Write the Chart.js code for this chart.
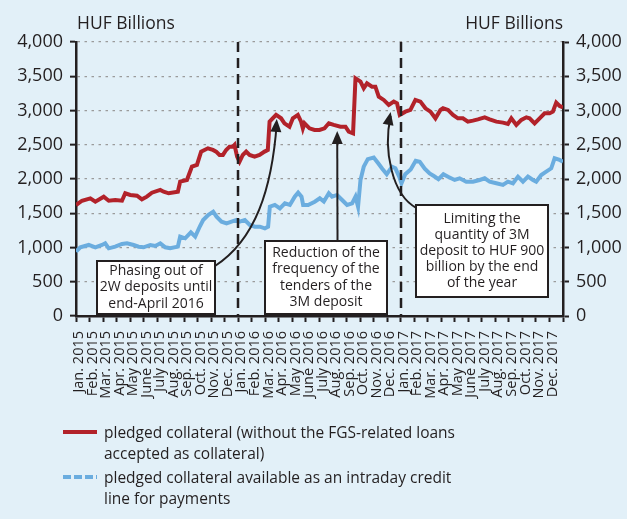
<!DOCTYPE html>
<html>
<head>
<meta charset="utf-8">
<script src="https://cdn.jsdelivr.net/npm/chart.js@4.4.1/dist/chart.umd.min.js"></script>
<style>
  html, body { margin: 0; padding: 0; }
  body {
    width: 627px; height: 519px; overflow: hidden; position: relative;
    background: #e2f0f8; font-family: 'Open Sans', sans-serif; color: #231f20;
  }
  #chart { position: absolute; left: 0; top: 0; }
  .legend { position: absolute; left: 104px; font-size: 15.5px; line-height: 20.5px; white-space: nowrap; }
  .sample { position: absolute; left: 63px; width: 34px; height: 4px; }
</style>
</head>
<body>
<canvas id="chart" width="627" height="519"></canvas>

<div class="sample" style="top:430px; background:#b2222a;"></div>
<div class="legend" style="top:422px;">pledged collateral (without the FGS-related loans<br>accepted as collateral)</div>
<div class="sample" style="top:475px; background:repeating-linear-gradient(to right, #6baddf 0 8px, transparent 8px 11px);"></div>
<div class="legend" style="top:467px;">pledged collateral available as an intraday credit<br>line for payments</div>

<script>
// tick labels (one per month, Jan 2015 - Dec 2017)
const monthNames = ['Jan.', 'Feb.', 'Mar.', 'Apr.', 'May', 'June', 'July', 'Aug.', 'Sep.', 'Oct.', 'Nov.', 'Dec.'];
const years = ['2015', '2016', '2017'];
const months = [];
years.forEach(y => monthNames.forEach(m => months.push(m + ' ' + y)));

// positions in months from Jan 2015, values in HUF billions
const redX = [0, 0.44, 1.06, 1.43, 2.05, 2.42, 2.9, 3.4, 3.64, 4.01, 4.51, 4.87, 5.24, 5.61, 6.23, 6.48, 6.85, 7.53, 7.7, 8.2,
  8.57, 8.94, 9.25, 9.75, 10.12, 10.36, 10.61, 10.86, 11.1, 11.35, 11.6, 11.72, 11.91, 12.09, 12.33, 12.58, 12.83, 13.2, 13.57, 13.94,
  14.18, 14.31, 14.79, 15.16, 15.41, 15.78, 16.03, 16.4, 16.64, 16.77, 16.89, 17.26, 17.63, 18, 18.37, 18.69, 19.05, 19.55, 19.92, 20.16,
  20.48, 20.66, 21.03, 21.27, 21.51, 21.88, 22.13, 22.38, 22.75, 23.12, 23.49, 23.73, 23.93, 24.35, 24.72, 25.09, 25.46, 25.83, 26.2, 26.57,
  26.94, 27.13, 27.5, 27.87, 28.23, 28.6, 28.97, 29.34, 29.71, 30.21, 30.58, 31.07, 31.56, 31.93, 32.18, 32.55, 32.92, 33.29, 33.53, 33.9,
  34.27, 34.64, 35.01, 35.25, 35.5, 35.75, 36];
const red = [1620, 1683, 1718, 1669, 1742, 1683, 1694, 1683, 1791, 1767, 1757, 1703, 1742, 1800, 1840, 1815, 1791, 1815, 1961, 1986,
  2180, 2205, 2400, 2448, 2424, 2400, 2351, 2351, 2424, 2472, 2472, 2497, 2326, 2253, 2351, 2400, 2351, 2326, 2351, 2400,
  2424, 2837, 2935, 2886, 2813, 2764, 2886, 2935, 2837, 2740, 2813, 2740, 2716, 2716, 2740, 2813, 2789, 2764, 2764, 2691,
  2667, 3470, 3421, 3324, 3397, 3348, 3348, 3202, 3154, 3081, 3129, 3105, 2935, 2983, 3008, 3154, 3129, 3032, 2983, 2886,
  3008, 3032, 3008, 2935, 2886, 2886, 2837, 2852, 2871, 2900, 2871, 2837, 2823, 2803, 2886, 2789, 2862, 2900, 2886, 2813,
  2886, 2959, 2959, 2983, 3115, 3066, 3047];

const blueX = [0, 0.32, 0.94, 1.43, 1.92, 2.16, 2.42, 2.9, 3.4, 3.77, 4.26, 4.63, 5, 5.49, 5.86, 6.23, 6.6, 6.96, 7.53, 7.7,
  8.07, 8.49, 8.81, 9.16, 9.4, 9.77, 10.14, 10.39, 10.76, 11.13, 11.5, 11.87, 12.11, 12.48, 12.85, 13.22, 13.59, 13.96, 14.2, 14.33,
  14.7, 15.07, 15.44, 15.81, 16.17, 16.42, 16.67, 16.79, 17.16, 17.65, 18.02, 18.32, 18.69, 18.93, 19.3, 19.67, 20.04, 20.41, 20.66, 20.85,
  21.03, 21.27, 21.57, 22.01, 22.34, 22.64, 22.97, 23.36, 23.61, 23.89, 24.06, 24.34, 24.74, 25.11, 25.41, 25.78, 26.14, 26.48, 26.79, 27.16,
  27.5, 27.99, 28.36, 28.85, 29.34, 29.84, 30.21, 30.58, 31.07, 31.56, 31.93, 32.3, 32.67, 33.04, 33.41, 33.78, 34.02, 34.39, 34.76, 35.13,
  35.38, 35.75, 36];
const blue = [939, 1003, 1037, 1003, 1037, 1061, 988, 1012, 1051, 1061, 1037, 1012, 1003, 1037, 1022, 1061, 1003, 988, 1012, 1158,
  1134, 1220, 1158, 1310, 1402, 1475, 1523, 1450, 1377, 1353, 1377, 1402, 1377, 1402, 1329, 1304, 1304, 1280, 1304, 1596,
  1621, 1572, 1645, 1621, 1742, 1800, 1742, 1621, 1621, 1669, 1718, 1670, 1791, 1742, 1767, 1694, 1621, 1645, 1742, 1596,
  1986, 2180, 2290, 2314, 2229, 2150, 2070, 2180, 2156, 2035, 1937, 2070, 2140, 2265, 2250, 2150, 2080, 2040, 1998, 2070,
  2034, 1986, 2010, 1961, 1961, 1986, 2010, 1961, 1937, 1913, 1961, 1937, 2034, 1961, 2034, 1986, 1961, 2059, 2107, 2156,
  2302, 2278, 2253];

// vertical dashed lines (Jan 2016, Jan 2017)
const breaks = [12, 24];

const ink = '#231f20';
const font = "'Open Sans', sans-serif";

// annotations: box in px, arrow tip in data units (month, value), curve controls in px
const notes = [
  { lines: ['Phasing out of', '2W deposits until', 'end-April 2016'],
    box: [97, 261, 118, 53], from: [215, 266], c1: [255, 240], c2: [272, 190], tip: [14.84, 2876] },
  { lines: ['Reduction of the', 'frequency of the', 'tenders of the', '3M deposit'],
    box: [265, 241, 122, 73], from: [337.5, 241], tip: [19.31, 2701] },
  { lines: ['Limiting the', 'quantity of 3M', 'deposit to HUF 900', 'billion by the end', 'of the year'],
    box: [416, 205, 132, 92], from: [416.5, 208], c1: [392, 195], c2: [383, 150], tip: [23.26, 2978] }
];

function arrowHead(ctx, x, y, fx, fy) {
  const a = Math.atan2(y - fy, x - fx);
  const len = 13, w = 5.5;
  ctx.beginPath();
  ctx.moveTo(x, y);
  ctx.lineTo(x - len * Math.cos(a) + w * Math.sin(a), y - len * Math.sin(a) - w * Math.cos(a));
  ctx.lineTo(x - len * Math.cos(a) - w * Math.sin(a), y - len * Math.sin(a) + w * Math.cos(a));
  ctx.closePath();
  ctx.fill();
}

const extras = {
  id: 'extras',
  afterDatasetsDraw(chart) {
    const {ctx, chartArea, scales: {x, y}} = chart;
    ctx.save();

    // dashed separators
    ctx.strokeStyle = ink;
    ctx.lineWidth = 2.5;
    ctx.setLineDash([10, 6]);
    breaks.forEach(b => {
      const px = Math.round(x.getPixelForValue(b));
      ctx.beginPath();
      ctx.moveTo(px, chartArea.top);
      ctx.lineTo(px, chartArea.bottom);
      ctx.stroke();
    });
    ctx.setLineDash([]);

    // unit titles
    ctx.fillStyle = ink;
    ctx.font = '17.5px ' + font;
    ctx.textBaseline = 'alphabetic';
    ctx.textAlign = 'left';
    ctx.fillText('HUF Billions', chartArea.left + 1, 29);
    ctx.textAlign = 'right';
    ctx.fillText('HUF Billions', chartArea.right, 29);

    // annotation boxes + arrows
    notes.forEach(n => {
      const tx = x.getPixelForValue(n.tip[0]);
      const ty = y.getPixelForValue(n.tip[1]);
      ctx.strokeStyle = ink;
      ctx.fillStyle = ink;
      ctx.lineWidth = 2;
      ctx.beginPath();
      ctx.moveTo(n.from[0], n.from[1]);
      let last = n.from;
      if (n.c1) {
        ctx.bezierCurveTo(n.c1[0], n.c1[1], n.c2[0], n.c2[1], tx, ty + 4);
        last = n.c2;
      } else {
        ctx.lineTo(tx, ty + 4);
      }
      ctx.stroke();
      arrowHead(ctx, tx, ty, last[0], last[1]);

      const [bx, by, bw, bh] = n.box;
      ctx.fillStyle = '#ffffff';
      ctx.fillRect(bx, by, bw, bh);
      ctx.strokeRect(bx, by, bw, bh);
      ctx.fillStyle = ink;
      ctx.font = '14px ' + font;
      ctx.textAlign = 'center';
      ctx.textBaseline = 'middle';
      const lh = 16.2;
      const y0 = by + bh / 2 - (n.lines.length - 1) * lh / 2;
      n.lines.forEach((t, i) => ctx.fillText(t, bx + bw / 2, y0 + i * lh));
    });
    ctx.restore();
  }
};

const toPoints = (xs, vs) => xs.map((m, i) => ({x: m, y: vs[i]}));

new Chart(document.getElementById('chart'), {
  type: 'line',
  data: {
    datasets: [
      { label: 'pledged collateral (without the FGS-related loans accepted as collateral)',
        data: toPoints(redX, red), borderColor: '#b2222a', borderWidth: 4, pointRadius: 0, tension: 0 },
      { label: 'pledged collateral available as an intraday credit line for payments',
        data: toPoints(blueX, blue), borderColor: '#6baddf', borderWidth: 4, pointRadius: 0, tension: 0 }
    ]
  },
  options: {
    responsive: false,
    animation: false,
    events: [],
    layout: { padding: { top: 42, left: 0, right: 0, bottom: 0 } },
    plugins: { legend: { display: false }, tooltip: { enabled: false } },
    scales: {
      x: {
        type: 'linear', min: 0, max: 36,
        afterFit: s => { s.height = 203; },
        border: { color: ink, width: 2.5 },
        grid: { drawOnChartArea: false, drawTicks: true, tickLength: 6, tickColor: ink, tickWidth: 2 },
        ticks: {
          stepSize: 1, autoSkip: false, maxRotation: 90, minRotation: 90, padding: 9, labelOffset: 3,
          color: ink, font: { family: font, size: 14.5 },
          callback: v => months[Math.round(v)] || ''
        }
      },
      y: {
        position: 'left', min: 0, max: 4000,
        afterFit: s => { s.width = 76; },
        border: { color: ink, width: 2.5, dash: [2.5, 4.5] },
        grid: { color: '#9b9b9b', lineWidth: 1.3, tickLength: 6, tickColor: ink, tickWidth: 2 },
        ticks: { stepSize: 500, padding: 7, color: ink, font: { family: font, size: 18 },
          callback: v => v.toLocaleString('en-US') }
      },
      y2: {
        position: 'right', min: 0, max: 4000,
        afterFit: s => { s.width = 64; },
        border: { color: ink, width: 2.5 },
        grid: { drawOnChartArea: false, tickLength: 6, tickColor: ink, tickWidth: 2 },
        ticks: { stepSize: 500, padding: 7, color: ink, font: { family: font, size: 18 },
          callback: v => v.toLocaleString('en-US') }
      }
    }
  },
  plugins: [extras]
});
</script>
</body>
</html>
